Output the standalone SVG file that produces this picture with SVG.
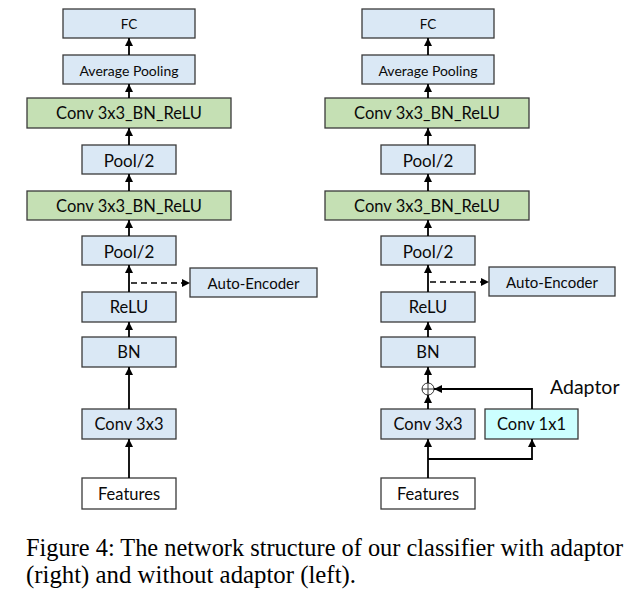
<svg xmlns="http://www.w3.org/2000/svg" width="630" height="597" viewBox="0 0 630 597">
<defs>
<style>
.b{fill:#dae8f5;stroke:#3a3a3a;stroke-width:1.3}
.g{fill:#c5e0b4;stroke:#3a3a3a;stroke-width:1.3}
.w{fill:#ffffff;stroke:#3a3a3a;stroke-width:1.3}
.c{fill:#ccffff;stroke:#3a3a3a;stroke-width:1.3}
text{font-family:Lato,"Liberation Sans",sans-serif;fill:#0a0a0a;text-anchor:middle;dominant-baseline:central}
.cap{font-family:"Liberation Serif",serif;font-size:24.5px;text-anchor:start;dominant-baseline:auto;fill:#000}
.l{stroke:#000;stroke-width:1.8;fill:none}
.d{stroke:#000;stroke-width:1.5;fill:none;stroke-dasharray:6 4}
</style>
<marker id="ah" viewBox="0 0 10 10" refX="10" refY="5" markerWidth="8" markerHeight="8" markerUnits="userSpaceOnUse" orient="auto">
<path d="M0,0 L10,5 L0,10 Z" fill="#000"/>
</marker>
</defs>

<g id="left">
<g id="L_fc"><rect class="b" x="63" y="9" width="132" height="29"/><text x="129" y="24" font-size="13.5">FC</text></g>
<g id="L_avg"><rect class="b" x="63" y="55" width="132" height="29"/><text x="129" y="70" font-size="14">Average Pooling</text></g>
<g id="L_conv2"><rect class="g" x="27" y="98" width="204" height="30"/><text x="129" y="113" font-size="16.5">Conv 3x3_BN_ReLU</text></g>
<g id="L_pool2"><rect class="b" x="82" y="145" width="94" height="29"/><text x="129" y="160" font-size="17">Pool/2</text></g>
<g id="L_conv1"><rect class="g" x="27" y="191" width="204" height="29"/><text x="129" y="206" font-size="16.5">Conv 3x3_BN_ReLU</text></g>
<g id="L_pool1"><rect class="b" x="82" y="236" width="94" height="29"/><text x="129" y="251" font-size="17">Pool/2</text></g>
<g id="L_ae"><rect class="b" x="190" y="268" width="127" height="29"/><text x="253.5" y="283" font-size="15">Auto-Encoder</text></g>
<g id="L_relu"><rect class="b" x="82" y="292" width="94" height="30"/><text x="129" y="307" font-size="16.5">ReLU</text></g>
<g id="L_bn"><rect class="b" x="82" y="337" width="94" height="30"/><text x="129" y="352" font-size="16.5">BN</text></g>
<g id="L_conv"><rect class="b" x="82" y="409" width="94" height="30"/><text x="129" y="424" font-size="16.5">Conv 3x3</text></g>
<g id="L_feat"><rect class="w" x="82" y="478" width="94" height="31"/><text x="129" y="494" font-size="16.5">Features</text></g>
</g>

<g id="right">
<g id="R_fc"><rect class="b" x="362" y="9" width="132" height="29"/><text x="428" y="24" font-size="13.5">FC</text></g>
<g id="R_avg"><rect class="b" x="362" y="55" width="132" height="29"/><text x="428" y="70" font-size="14">Average Pooling</text></g>
<g id="R_conv2"><rect class="g" x="325" y="98" width="204" height="30"/><text x="427" y="113" font-size="16.5">Conv 3x3_BN_ReLU</text></g>
<g id="R_pool2"><rect class="b" x="381" y="145" width="94" height="29"/><text x="428" y="160" font-size="17">Pool/2</text></g>
<g id="R_conv1"><rect class="g" x="325" y="191" width="204" height="29"/><text x="427" y="206" font-size="16.5">Conv 3x3_BN_ReLU</text></g>
<g id="R_pool1"><rect class="b" x="381" y="236" width="94" height="29"/><text x="428" y="251" font-size="17">Pool/2</text></g>
<g id="R_ae"><rect class="b" x="489" y="267" width="126" height="29"/><text x="552" y="282" font-size="15">Auto-Encoder</text></g>
<g id="R_relu"><rect class="b" x="381" y="292" width="94" height="30"/><text x="428" y="307" font-size="16.5">ReLU</text></g>
<g id="R_bn"><rect class="b" x="381" y="337" width="94" height="30"/><text x="428" y="352" font-size="16.5">BN</text></g>
<g id="R_add"><circle cx="428" cy="389" r="6" fill="#fff" stroke="#333" stroke-width="1"/><path d="M422,389 H434 M428,383 V395" stroke="#333" stroke-width="1"/></g>
<g id="R_conv"><rect class="b" x="381" y="409" width="94" height="30"/><text x="428" y="424" font-size="16.5">Conv 3x3</text></g>
<g id="R_conv1x1"><rect class="c" x="485" y="409" width="93" height="30"/><text x="531.5" y="424" font-size="16.5">Conv 1x1</text></g>
<g id="R_feat"><rect class="w" x="381" y="478" width="94" height="31"/><text x="428" y="494" font-size="16.5">Features</text></g>
<text x="550" y="386" font-size="19.5" style="text-anchor:start">Adaptor</text>
</g>

<g id="connectors">
<line class="l" x1="129" y1="55" x2="129" y2="38" marker-end="url(#ah)"/>
<line class="l" x1="129" y1="98" x2="129" y2="84" marker-end="url(#ah)"/>
<line class="l" x1="129" y1="145" x2="129" y2="128" marker-end="url(#ah)"/>
<line class="l" x1="129" y1="191" x2="129" y2="174" marker-end="url(#ah)"/>
<line class="l" x1="129" y1="236" x2="129" y2="220" marker-end="url(#ah)"/>
<line class="l" x1="129" y1="292" x2="129" y2="265" marker-end="url(#ah)"/>
<line class="d" x1="131" y1="283" x2="190" y2="283" marker-end="url(#ah)"/>
<line class="l" x1="129" y1="337" x2="129" y2="322" marker-end="url(#ah)"/>
<line class="l" x1="129" y1="409" x2="129" y2="367" marker-end="url(#ah)"/>
<line class="l" x1="129" y1="478" x2="129" y2="439" marker-end="url(#ah)"/>

<line class="l" x1="428" y1="55" x2="428" y2="38" marker-end="url(#ah)"/>
<line class="l" x1="428" y1="98" x2="428" y2="84" marker-end="url(#ah)"/>
<line class="l" x1="428" y1="145" x2="428" y2="128" marker-end="url(#ah)"/>
<line class="l" x1="428" y1="191" x2="428" y2="174" marker-end="url(#ah)"/>
<line class="l" x1="428" y1="236" x2="428" y2="220" marker-end="url(#ah)"/>
<line class="l" x1="428" y1="292" x2="428" y2="265" marker-end="url(#ah)"/>
<line class="d" x1="430" y1="282" x2="489" y2="282" marker-end="url(#ah)"/>
<line class="l" x1="428" y1="337" x2="428" y2="322" marker-end="url(#ah)"/>
<line class="l" x1="428" y1="383" x2="428" y2="367" marker-end="url(#ah)"/>
<line class="l" x1="428" y1="409" x2="428" y2="395" marker-end="url(#ah)"/>
<line class="l" x1="428" y1="478" x2="428" y2="439" marker-end="url(#ah)"/>
<polyline class="l" points="428,459 532,459 532,439" marker-end="url(#ah)"/>
<polyline class="l" points="532,409 532,389 434,389" marker-end="url(#ah)"/>
</g>

<g id="caption">
<text class="cap" x="26" y="556" textLength="597" lengthAdjust="spacingAndGlyphs">Figure 4: The network structure of our classifier with adaptor</text>
<text class="cap" x="26" y="583" textLength="330" lengthAdjust="spacingAndGlyphs">(right) and without adaptor (left).</text>
</g>
</svg>
